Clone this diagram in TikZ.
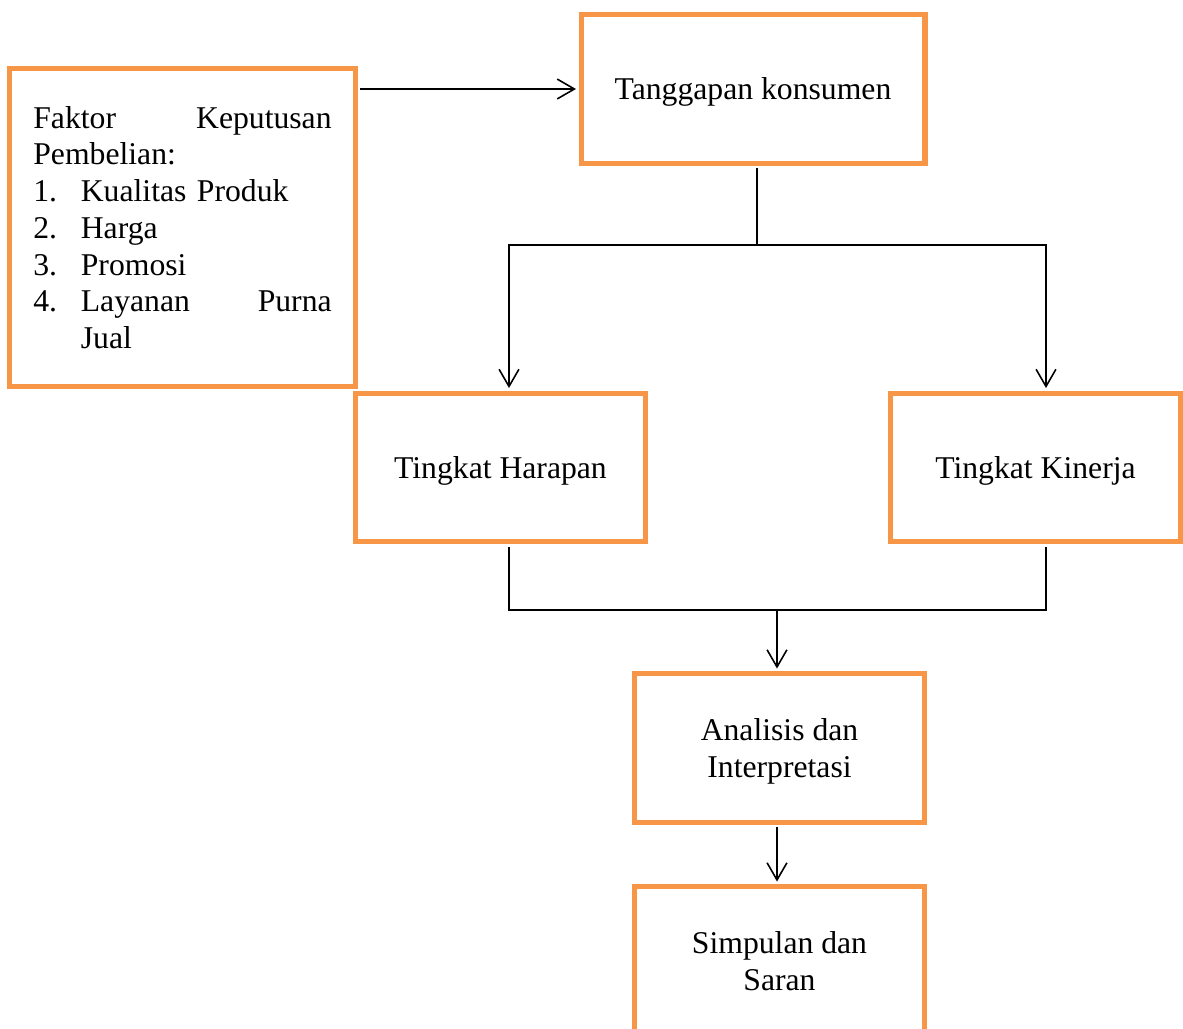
\documentclass[tikz,border=0pt]{standalone}
\usepackage{fontspec}
\setmainfont{Liberation Serif}
\usetikzlibrary{arrows.meta}
\definecolor{oranye}{RGB}{247,150,70}
\begin{document}
\begin{tikzpicture}[x=0.3788pt, y=-0.3788pt, font=\fontsize{12}{13.9}\selectfont,
>={Straight Barb[length=6.5pt,width=7.5pt]},
kotak/.style={draw=oranye, line width=1.9pt, minimum width=110.2pt, minimum height=56.4pt, align=center, inner sep=0pt},
isi/.style={kotak, text depth=0pt},
garis/.style={line width=0.6pt, shorten >=0.95pt},
dari/.style={shorten <=0.95pt}]
\def\w{1183} \def\h{1029}
\useasboundingbox (0,0) rectangle (\w,\h);
\clip (0,0) rectangle (\w,\h);
\node[kotak, minimum width=130.7pt, minimum height=120.8pt, text width=113pt, align=left] (faktor) at (182.5,227.5)
{Faktor \hfill Keputusan\\ Pembelian:\\ \makebox[18pt][l]{1.}Kualitas Produk\\ \makebox[18pt][l]{2.}Harga\\
\makebox[18pt][l]{3.}Promosi\\ \makebox[18pt][l]{4.}Layanan \hfill Purna\\ \hspace*{18pt}Jual};
\node[isi, minimum width=130.3pt, minimum height=56.1pt] (tanggapan) at (753,89) {Tanggapan konsumen};
\node[isi] (harapan) at (500.5,467.5) {Tingkat Harapan};
\node[isi] (kinerja) at (1035.5,467.5) {Tingkat Kinerja};
\node[isi] (analisis) at (779.5,748) {Analisis dan\\ Interpretasi};
\node[isi] (simpulan) at (779.5,961) {Simpulan dan\\ Saran};
\coordinate (cabang) at (757,245);
\coordinate (kiri) at (509,245);
\coordinate (kanan) at (1046,245);
\coordinate (gabung) at (777,610);
\draw[garis,dari,->] (faktor.east |- tanggapan.west) -- (tanggapan.west);
\draw[line width=0.6pt,dari] (tanggapan.south -| cabang) -- (cabang);
\draw[garis,->] (cabang) -| (harapan.north -| kiri);
\draw[garis,->] (cabang) -| (kinerja.north -| kanan);
\draw[garis,dari] (harapan.south -| kiri) |- (gabung) -| (kinerja.south -| kanan);
\draw[garis,->] (gabung) -- (analisis.north -| gabung);
\draw[garis,dari,->] (analisis.south -| gabung) -- (simpulan.north -| gabung);
\end{tikzpicture}
\end{document}
